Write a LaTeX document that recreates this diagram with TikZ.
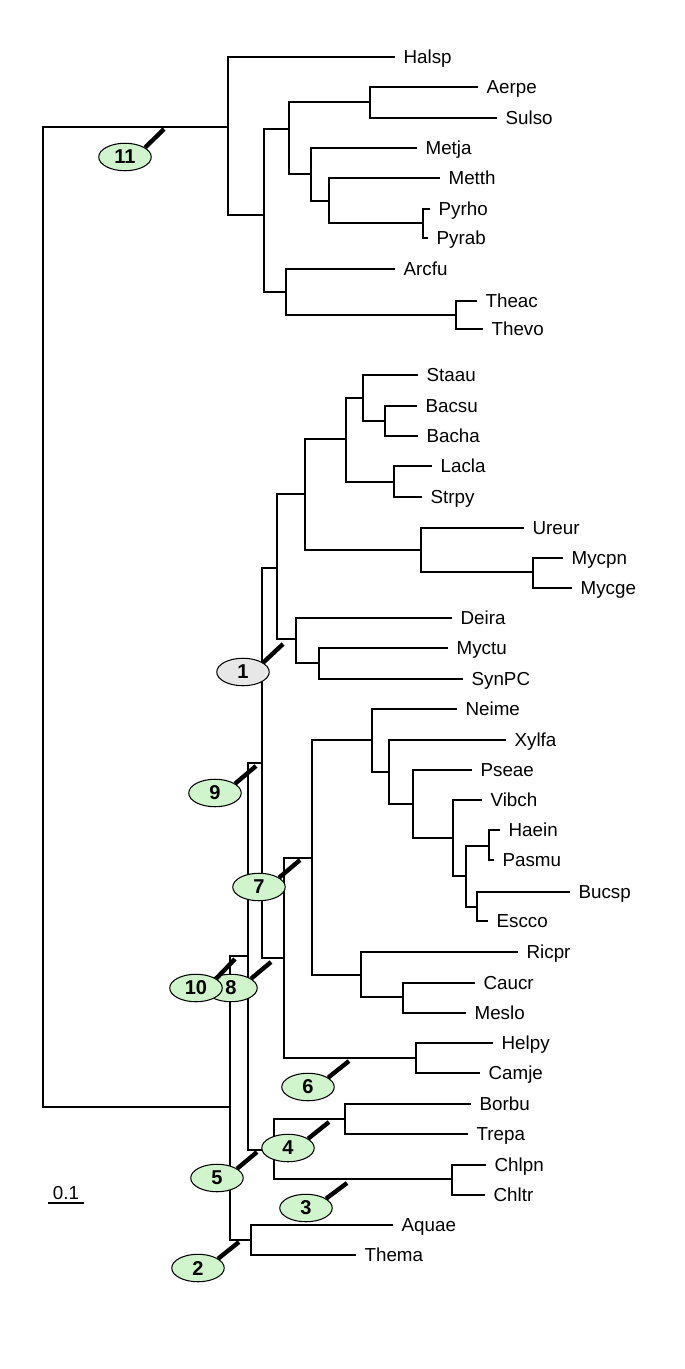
\documentclass[tikz,border=0pt]{standalone}
\usepackage{fontspec}
\setmainfont{Liberation Sans}
\usepackage{tikz}
\usetikzlibrary{shapes.geometric}
\definecolor{supgreen}{RGB}{208,244,204}
\definecolor{supgray}{RGB}{231,231,231}

\begin{document}
\begin{tikzpicture}[
    x=0.02cm, y=-0.02cm,
    every node/.style={font=\fontsize{10.7}{12.8}\selectfont},
    branch/.style={line width=0.8pt},
    leaf/.style={anchor=west, inner xsep=0.165cm, inner ysep=0pt, text height=0.27cm, text depth=0pt},
    bubble/.style={ellipse, draw, line width=0.6pt, fill=supgreen, minimum width=1.05cm, minimum height=0.55cm, inner sep=0pt, font=\fontsize{11.4}{13.6}\selectfont\bfseries},
    tick/.style={line width=2.5pt},
]
    \useasboundingbox (0,0) rectangle (685,1369);

    % Root
    \coordinate (root) at (43,617);

    % Archaea
    \coordinate (arch) at (228,127);
    \coordinate (a1) at (264,215);
    \coordinate (a2) at (289,129);
    \coordinate (a3) at (370,102);
    \coordinate (a4) at (311,174);
    \coordinate (a5) at (329,201);
    \coordinate (a6) at (423,223);
    \coordinate (a7) at (286,292);
    \coordinate (a8) at (456,315);

    \node[leaf] (halsp) at (395,57) {Halsp};
    \node[leaf] (aerpe) at (478,87) {Aerpe};
    \node[leaf] (sulso) at (497,118) {Sulso};
    \node[leaf] (metja) at (417,148) {Metja};
    \node[leaf] (metth) at (440,178) {Metth};
    \node[leaf] (pyrho) at (430,209) {Pyrho};
    \node[leaf] (pyrab) at (428,238) {Pyrab};
    \node[leaf] (arcfu) at (395,269) {Arcfu};
    \node[leaf] (theac) at (477,301) {Theac};
    \node[leaf] (thevo) at (483,329) {Thevo};

    % Bacteria
    \coordinate (bact) at (230,1107);
    \coordinate (b10) at (248,956);
    \coordinate (b9) at (262,763);
    \coordinate (b8) at (284,958);
    \coordinate (b7) at (312,858);
    \coordinate (b6) at (416,1058);
    \coordinate (b5) at (274,1150);
    \coordinate (b4) at (345,1119);
    \coordinate (b3) at (452,1179);
    \coordinate (b2) at (251,1240);
    \coordinate (b1) at (277,568);
    % Firmicutes, Mollicutes, Actinobacteria ...
    \coordinate (c1) at (305,494);
    \coordinate (c2) at (346,439);
    \coordinate (c3) at (363,398);
    \coordinate (c3a) at (385,421);
    \coordinate (c3b) at (394,482);
    \coordinate (c4) at (421,550);
    \coordinate (c4a) at (533,572);
    \coordinate (c5) at (296,639);
    \coordinate (c5a) at (319,663);
    % Proteobacteria
    \coordinate (p1) at (372,740);
    \coordinate (p1a) at (389,772);
    \coordinate (p1b) at (413,804);
    \coordinate (p1c) at (453,838);
    \coordinate (p1d) at (466,876);
    \coordinate (p1e) at (489,846);
    \coordinate (p1f) at (477,907);
    \coordinate (p2) at (361,975);
    \coordinate (p2a) at (403,997);

    \node[leaf] (staau) at (418,375) {Staau};
    \node[leaf] (bacsu) at (417,406) {Bacsu};
    \node[leaf] (bacha) at (418,436) {Bacha};
    \node[leaf] (lacla) at (432,466) {Lacla};
    \node[leaf] (strpy) at (422,497) {Strpy};
    \node[leaf] (ureur) at (524,528) {Ureur};
    \node[leaf] (mycpn) at (563,558) {Mycpn};
    \node[leaf] (mycge) at (572,588) {Mycge};
    \node[leaf] (deira) at (452,618) {Deira};
    \node[leaf] (myctu) at (448,648) {Myctu};
    \node[leaf] (synpc) at (463,679) {SynPC};
    \node[leaf] (neime) at (457,709) {Neime};
    \node[leaf] (xylfa) at (506,740) {Xylfa};
    \node[leaf] (pseae) at (472,770) {Pseae};
    \node[leaf] (vibch) at (482,800) {Vibch};
    \node[leaf] (haein) at (500,830) {Haein};
    \node[leaf] (pasmu) at (494,860) {Pasmu};
    \node[leaf] (bucsp) at (570,892) {Bucsp};
    \node[leaf] (escco) at (488,921) {Escco};
    \node[leaf] (ricpr) at (518,952) {Ricpr};
    \node[leaf] (caucr) at (475,983) {Caucr};
    \node[leaf] (meslo) at (466,1013) {Meslo};
    \node[leaf] (helpy) at (493,1043) {Helpy};
    \node[leaf] (camje) at (480,1073) {Camje};
    \node[leaf] (borbu) at (471,1104) {Borbu};
    \node[leaf] (trepa) at (468,1134) {Trepa};
    \node[leaf] (chlpn) at (486,1165) {Chlpn};
    \node[leaf] (chltr) at (485,1195) {Chltr};
    \node[leaf] (aquae) at (393,1225) {Aquae};
    \node[leaf] (thema) at (356,1255) {Thema};

    % Branches
    \draw[branch] (root) |- (arch) (root) |- (bact);
    \draw[branch] (arch) |- (halsp) (arch) |- (a1);
    \draw[branch] (a1) |- (a2) (a1) |- (a7);
    \draw[branch] (a2) |- (a3) (a2) |- (a4);
    \draw[branch] (a3) |- (aerpe) (a3) |- (sulso);
    \draw[branch] (a4) |- (metja) (a4) |- (a5);
    \draw[branch] (a5) |- (metth) (a5) |- (a6);
    \draw[branch] (a6) |- (pyrho) (a6) |- (pyrab);
    \draw[branch] (a7) |- (arcfu) (a7) |- (a8);
    \draw[branch] (a8) |- (theac) (a8) |- (thevo);

    \draw[branch] (bact) |- (b10) (bact) |- (b2);
    \draw[branch] (b2) |- (aquae) (b2) |- (thema);
    \draw[branch] (b10) |- (b9) (b10) |- (b5);
    \draw[branch] (b5) |- (b4) (b5) |- (b3);
    \draw[branch] (b4) |- (borbu) (b4) |- (trepa);
    \draw[branch] (b3) |- (chlpn) (b3) |- (chltr);
    \draw[branch] (b9) |- (b1) (b9) |- (b8);
    \draw[branch] (b1) |- (c1) (b1) |- (c5);
    \draw[branch] (c1) |- (c2) (c1) |- (c4);
    \draw[branch] (c2) |- (c3) (c2) |- (c3b);
    \draw[branch] (c3) |- (staau) (c3) |- (c3a);
    \draw[branch] (c3a) |- (bacsu) (c3a) |- (bacha);
    \draw[branch] (c3b) |- (lacla) (c3b) |- (strpy);
    \draw[branch] (c4) |- (ureur) (c4) |- (c4a);
    \draw[branch] (c4a) |- (mycpn) (c4a) |- (mycge);
    \draw[branch] (c5) |- (deira) (c5) |- (c5a);
    \draw[branch] (c5a) |- (myctu) (c5a) |- (synpc);
    \draw[branch] (b8) |- (b7) (b8) |- (b6);
    \draw[branch] (b6) |- (helpy) (b6) |- (camje);
    \draw[branch] (b7) |- (p1) (b7) |- (p2);
    \draw[branch] (p2) |- (ricpr) (p2) |- (p2a);
    \draw[branch] (p2a) |- (caucr) (p2a) |- (meslo);
    \draw[branch] (p1) |- (neime) (p1) |- (p1a);
    \draw[branch] (p1a) |- (xylfa) (p1a) |- (p1b);
    \draw[branch] (p1b) |- (pseae) (p1b) |- (p1c);
    \draw[branch] (p1c) |- (vibch) (p1c) |- (p1d);
    \draw[branch] (p1d) |- (p1e) (p1d) |- (p1f);
    \draw[branch] (p1e) |- (haein) (p1e) |- (pasmu);
    \draw[branch] (p1f) |- (bucsp) (p1f) |- (escco);

    % Numbered branches
    \node[bubble] (n11) at (125,157) {11};
    \node[bubble, fill=supgray] (n1) at (243,672) {1};
    \node[bubble] (n9) at (215,793) {9};
    \node[bubble] (n7) at (259,887) {7};
    \node[bubble] (n8) at (231,988) {8};
    \node[bubble] (n10) at (196,988) {10};
    \node[bubble] (n6) at (308,1087) {6};
    \node[bubble] (n4) at (288,1148) {4};
    \node[bubble] (n5) at (217,1178) {5};
    \node[bubble] (n3) at (306,1208) {3};
    \node[bubble] (n2) at (198,1268) {2};

    \coordinate (t11) at (164,129);
    \coordinate (t1) at (283,644);
    \coordinate (t9) at (256,766);
    \coordinate (t7) at (300,860);
    \coordinate (t10) at (235,959);
    \coordinate (t8) at (271,962);
    \coordinate (t6) at (349,1061);
    \coordinate (t4) at (329,1122);
    \coordinate (t5) at (257,1152);
    \coordinate (t3) at (347,1183);
    \coordinate (t2) at (239,1242);

    \draw[tick] (n11.25) -- (t11);
    \draw[tick] (n1.25) -- (t1);
    \draw[tick] (n9.25) -- (t9);
    \draw[tick] (n7.25) -- (t7);
    \draw[tick] (n10.25) -- (t10);
    \draw[tick] (n8.25) -- (t8);
    \draw[tick] (n6.25) -- (t6);
    \draw[tick] (n4.25) -- (t4);
    \draw[tick] (n5.25) -- (t5);
    \draw[tick] (n3.25) -- (t3);
    \draw[tick] (n2.25) -- (t2);

    % Scale bar
    \coordinate (sbl) at (48,1203);
    \coordinate (sbr) at (84,1203);
    \draw[branch] (sbl) -- (sbr) node[midway, above, inner sep=0.06cm] (scale) {0.1};
\end{tikzpicture}
\end{document}
